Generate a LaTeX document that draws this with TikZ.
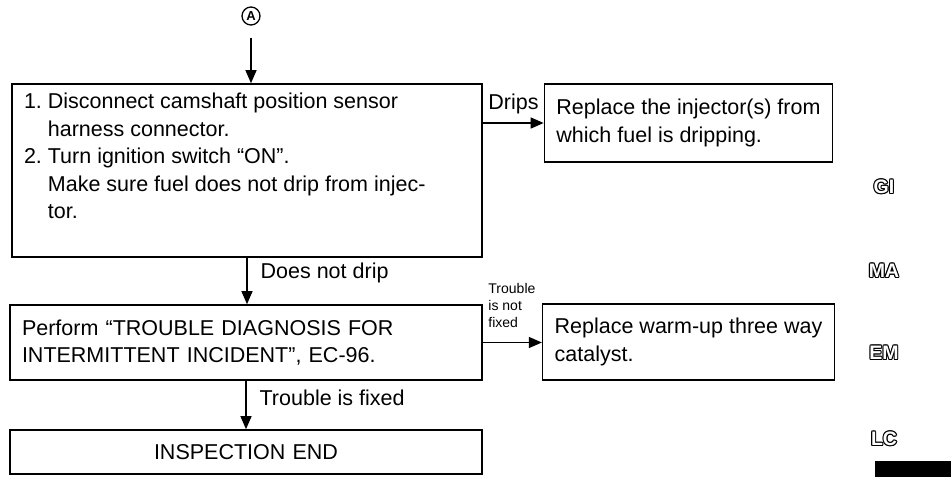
\documentclass[tikz,border=0pt]{standalone}
\usepackage{fontspec}
\setmainfont{Liberation Sans}
\usetikzlibrary{arrows.meta, positioning, calc}

\newcommand{\boxfont}{\fontsize{21.5}{27.5}\selectfont}
\newcommand{\ind}{\phantom{1.~}}

\begin{document}
\frenchspacing
\begin{tikzpicture}[x=1pt, y=-1pt,
    box/.style={draw, line width=1.6pt, inner xsep=12pt, inner ysep=0pt, font=\boxfont},
    arr/.style={-{Triangle[length=13pt, width=11pt]}, line width=1.3pt},
    lbl/.style={font=\boxfont, inner sep=2pt},
    small/.style={font=\fontsize{14}{17}\selectfont, inner sep=2pt, align=left},
    side/.style={font=\fontsize{19.5}{19.5}\selectfont\bfseries, inner sep=0pt}]
    \useasboundingbox (0,0) rectangle (951,477);

    % start mark
    \node[circle, draw, line width=1.3pt, minimum size=18pt, inner sep=0pt,
          font=\fontsize{13}{13}\selectfont\bfseries] (A) at (251,16) {A};

    % left column
    \node[box, minimum width=470pt, minimum height=173pt] (check) at (247,170.5)
        {\parbox[c][155pt][t]{446pt}{1.~Disconnect camshaft position sensor\\
         \ind harness connector.\\
         2.~Turn ignition switch “ON”.\\
         \ind Make sure fuel does not drip from injec-\\
         \ind tor.}};
    \node[box, align=left, text width=448pt, minimum height=75pt] (diag) at (246,342.5)
        {Perform “TROUBLE DIAGNOSIS FOR\\INTERMITTENT INCIDENT”, EC-96.};
    \node[box, align=center, text width=448pt, minimum height=44pt] (done) at (246,452)
        {INSPECTION END};

    % right column
    \node[box, align=left, minimum width=287pt, minimum height=78pt] (replace) at (688.5,123)
        {Replace the injector(s) from\\which fuel is dripping.};
    \node[box, align=left, minimum width=287pt, minimum height=76pt] (catalyst) at (688.5,342)
        {Replace warm-up three way\\catalyst.};

    % arrows
    \draw[arr, shorten <=12pt] (A) -- (A |- check.north);
    \draw[arr] (replace.west -| check.east)
        -- node[lbl, pos=0, anchor=south west, xshift=3pt, yshift=6pt] (drips) {Drips} (replace.west);
    \draw[arr] (check.south)
        -- node[lbl, right=11pt, pos=0.33] (nodrip) {Does not drip} (check.south |- diag.north);
    \draw[arr] (diag.east)
        -- node[small, pos=0, anchor=south west, xshift=3pt, yshift=12pt] (notfixed) {Trouble\\is not\\fixed}
        (diag.east -| catalyst.west);
    \draw[arr] (diag.south)
        -- node[lbl, right=11pt, pos=0.36] (fixed) {Trouble is fixed} (diag.south |- done.north);

    % section tabs
    \foreach \lab/\ly in {GI/187, MA/271, EM/353, LC/439} {
        \foreach \a in {0,45,...,315}
            \node[side, text=black] (\lab-\a) at ([shift={(\a:1.1)}]884,\ly) {\lab};
        \node[side, text=white] (\lab) at (884,\ly) {\lab};
    }
    \fill (875,461) rectangle (951,477);
\end{tikzpicture}
\end{document}
